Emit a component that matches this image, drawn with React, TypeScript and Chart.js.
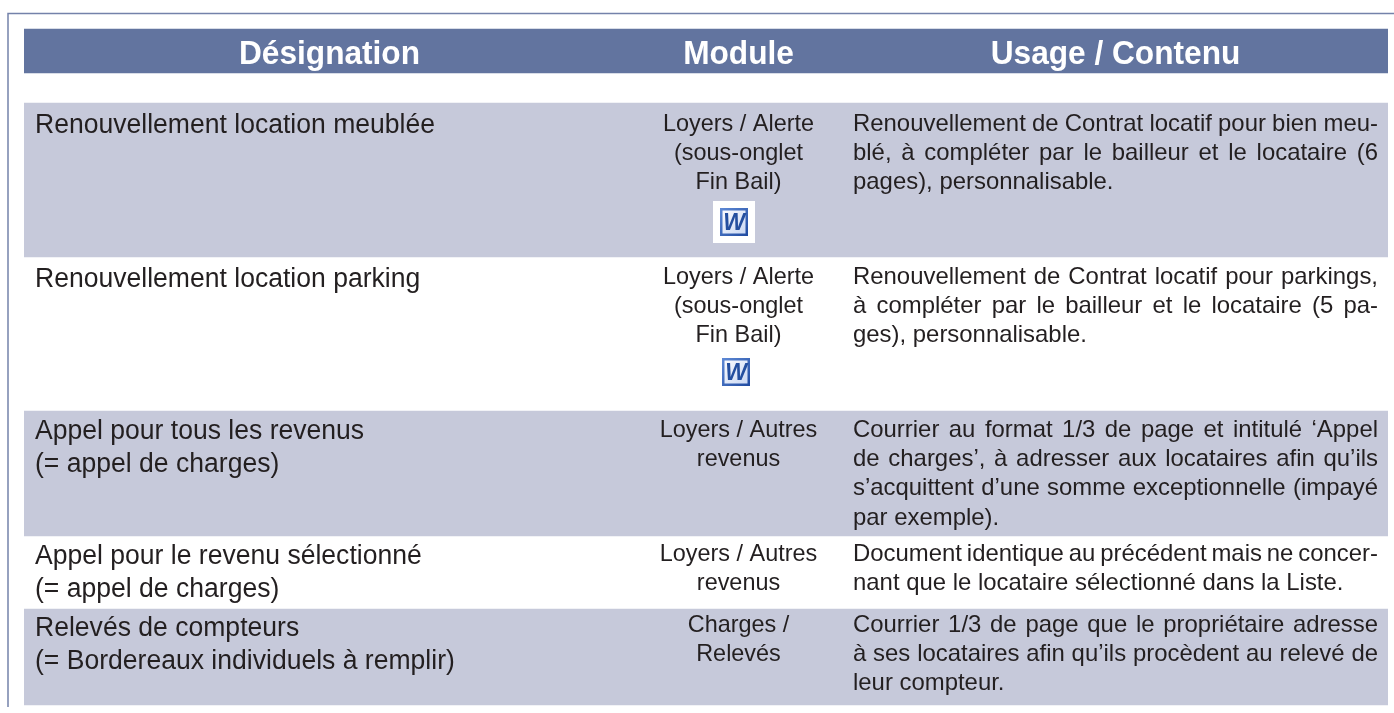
import React, { useEffect, useRef } from "react";
import { Chart, registerables } from "chart.js";

Chart.register(...registerables);

// ---- data ----
const columnLabel = ["Table"];
const headerSpan: [number, number] = [29, 73];
const shadedRowSpans: [number, number][] = [
  [103, 257],
  [411, 536],
  [609, 705],
];
const headerTitles = ["Désignation", "Module", "Usage / Contenu"];
const designations = [
  ["Renouvellement location meublée"],
  ["Renouvellement location parking"],
  ["Appel pour tous les revenus", "(= appel de charges)"],
  ["Appel pour le revenu sélectionné", "(= appel de charges)"],
  ["Relevés de compteurs", "(= Bordereaux individuels à remplir)"],
];
const modules = [
  ["Loyers / Alerte", "(sous-onglet", "Fin Bail)"],
  ["Loyers / Alerte", "(sous-onglet", "Fin Bail)"],
  ["Loyers / Autres", "revenus"],
  ["Loyers / Autres", "revenus"],
  ["Charges /", "Relevés"],
];
const usages = [
  ["Renouvellement de Contrat locatif pour bien meu-", "blé, à compléter par le bailleur et le locataire (6", "pages), personnalisable."],
  ["Renouvellement de Contrat locatif pour parkings,", "à compléter par le bailleur et le locataire (5 pa-", "ges), personnalisable."],
  ["Courrier au format 1/3 de page et intitulé ‘Appel", "de charges’, à adresser aux locataires afin qu’ils", "s’acquittent d’une somme exceptionnelle (impayé", "par exemple)."],
  ["Document identique au précédent mais ne concer-", "nant que le locataire sélectionné dans la Liste."],
  ["Courrier 1/3 de page que le propriétaire adresse", "à ses locataires afin qu’ils procèdent au relevé de", "leur compteur."],
];

// ---- layout ----
const W = 1394;
const H = 713;
const FONT = '"Liberation Sans", Arial, sans-serif';
const INK = "#231f20";
const desBase = [133, 287, 439, 564, 636];
const desPitch = 33;
const modBase = [131, 284, 437, 561, 632];
const usaBase = [131, 284, 437, 561, 632];
const pitch = 29.2;

function fitScale(ctx: CanvasRenderingContext2D, font: string, sample: string, width: number) {
  ctx.font = font;
  return width / ctx.measureText(sample).width;
}

function drawWord(ctx: CanvasRenderingContext2D, x: number, y: number) {
  const s = 28;
  const g = ctx.createLinearGradient(x, y, x + s, y + s);
  g.addColorStop(0, "#5f8ad6");
  g.addColorStop(1, "#1f4aa0");
  ctx.fillStyle = g;
  ctx.fillRect(x, y, s, s);
  const p = ctx.createLinearGradient(x, y, x + s, y + s);
  p.addColorStop(0, "#ffffff");
  p.addColorStop(1, "#c5d4f2");
  ctx.fillStyle = p;
  ctx.fillRect(x + 2.5, y + 2.5, s - 5, s - 5);
  ctx.fillStyle = "#244f9f";
  ctx.font = `italic bold 23px "Liberation Sans", sans-serif`;
  ctx.textAlign = "center";
  ctx.fillText("W", x + s / 2, y + s - 6);
  ctx.textAlign = "left";
}

const tablePlugin = {
  id: "tablePlugin",
  afterDatasetsDraw(chart: Chart) {
    const ctx = chart.ctx;
    ctx.save();
    // frame
    ctx.strokeStyle = "#7482aa";
    ctx.lineWidth = 1.5;
    ctx.beginPath();
    ctx.moveTo(8, 707);
    ctx.lineTo(8, 13.5);
    ctx.lineTo(W, 13.5);
    ctx.stroke();

    ctx.textBaseline = "alphabetic";
    // header
    const hFont = `bold 34px ${FONT}`;
    const hSx = fitScale(ctx, hFont, "Désignation", 181);
    ctx.fillStyle = "#ffffff";
    ctx.font = hFont;
    ctx.textAlign = "center";
    [329.5, 738.5, 1115.5].forEach((cx, i) => {
      ctx.save();
      ctx.translate(cx, 64);
      ctx.scale(hSx, 1);
      ctx.fillText(headerTitles[i], 0, 0);
      ctx.restore();
    });

    ctx.fillStyle = INK;
    // designation
    const dFont = `27px ${FONT}`;
    const dSx = fitScale(ctx, dFont, "Renouvellement location meublée", 400);
    ctx.font = dFont;
    ctx.textAlign = "left";
    designations.forEach((lines, r) =>
      lines.forEach((t, l) => {
        ctx.save();
        ctx.translate(35, desBase[r] + l * desPitch);
        ctx.scale(dSx, 1);
        ctx.fillText(t, 0, 0);
        ctx.restore();
      })
    );
    // module
    const mFont = `24px ${FONT}`;
    const mSx = fitScale(ctx, mFont, "Loyers / Alerte", 151);
    ctx.font = mFont;
    ctx.textAlign = "center";
    modules.forEach((lines, r) =>
      lines.forEach((t, l) => {
        ctx.save();
        ctx.translate(738.5, modBase[r] + l * pitch);
        ctx.scale(mSx, 1);
        ctx.fillText(t, 0, 0);
        ctx.restore();
      })
    );
    // usage, justified except last line of each cell
    const uFont = `24px ${FONT}`;
    const uSx = fitScale(ctx, uFont, "pages), personnalisable.", 260.5);
    ctx.font = uFont;
    ctx.textAlign = "left";
    const uLeft = 853;
    const uRight = 1378;
    usages.forEach((lines, r) =>
      lines.forEach((t, l) => {
        const y = usaBase[r] + l * pitch;
        const words = t.split(" ");
        const last = l === lines.length - 1;
        const ww = words.map((w) => ctx.measureText(w).width * uSx);
        const total = ww.reduce((a, b) => a + b, 0);
        const gap = last ? ctx.measureText(" ").width * uSx : (uRight - uLeft - total) / (words.length - 1);
        let x = uLeft;
        words.forEach((w, i) => {
          ctx.save();
          ctx.translate(x, y);
          ctx.scale(uSx, 1);
          ctx.fillText(w, 0, 0);
          ctx.restore();
          x += ww[i] + gap;
        });
      })
    );
    // icons
    ctx.fillStyle = "#ffffff";
    ctx.fillRect(713, 201, 42, 42);
    drawWord(ctx, 720, 208);
    drawWord(ctx, 722, 358);
    ctx.restore();
  },
};

export default function App() {
  const ref = useRef<HTMLCanvasElement>(null);
  useEffect(() => {
    const chart = new Chart(ref.current!, {
      type: "bar",
      data: {
        labels: columnLabel,
        datasets: [
          { label: "header", data: [headerSpan as any], backgroundColor: "#62749f", grouped: false, barPercentage: 1, categoryPercentage: 1, borderWidth: 0 },
          ...shadedRowSpans.map((span, i) => ({
            label: `row${i}`,
            data: [span as any],
            backgroundColor: "#c6c9da",
            grouped: false,
            barPercentage: 1,
            categoryPercentage: 1,
            borderWidth: 0,
          })),
        ],
      },
      options: {
        animation: false,
        responsive: false,
        layout: { padding: { left: 24, right: 6, top: 0, bottom: 0 } },
        plugins: { legend: { display: false }, tooltip: { enabled: false }, title: { display: false } },
        scales: {
          x: { display: false },
          y: { display: false, reverse: true, min: 0, max: H },
        },
      },
      plugins: [tablePlugin],
    });
    return () => chart.destroy();
  }, []);
  return (
    <canvas
      ref={ref}
      width={W}
      height={H}
      style={{ position: "fixed", left: 0, top: 0, width: W, height: H, display: "block", background: "#fff" }}
    />
  );
}
